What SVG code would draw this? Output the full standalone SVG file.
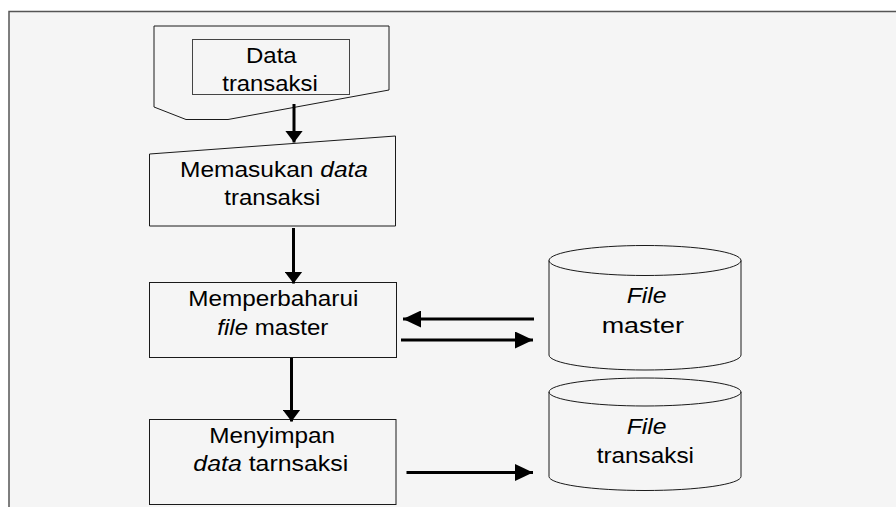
<svg xmlns="http://www.w3.org/2000/svg" width="896" height="507" viewBox="0 0 896 507">
  <style>
    .frame { fill: none; stroke: #555; stroke-width: 1.5; }
    .shape { fill: none; stroke: #1a1a1a; stroke-width: 1; }
    .inner { fill: none; stroke: #444; stroke-width: 1; }
    .label { font-family: "Liberation Sans", Arial, sans-serif; font-size: 22.5px; fill: #000; }
    .it { font-style: italic; }
    .flow { fill: none; stroke: #000; stroke-width: 3; }
  </style>
  <defs>
    <marker id="headDown" markerUnits="userSpaceOnUse" viewBox="0 0 12 18" refX="12" refY="9" markerWidth="12" markerHeight="18" orient="auto">
      <path d="M0,0 L12,9 L0,18 Z" fill="#000"/>
    </marker>
    <marker id="headSide" markerUnits="userSpaceOnUse" viewBox="0 0 18 17" refX="18" refY="8.5" markerWidth="18" markerHeight="17" orient="auto">
      <path d="M0,0 L18,8.5 L0,17 Z" fill="#000"/>
    </marker>
  </defs>

  <!-- page background and frame -->
  <rect x="0" y="0" width="896" height="507" fill="#fff"/>
  <rect x="9" y="11.5" width="887" height="495.5" fill="#f5f5f5"/>
  <path class="frame" d="M9,507 V11.5 H896"/>

  <!-- source document -->
  <g id="doc-data-transaksi">
    <path class="shape" d="M154,26 H389 V90 L228,119.5 H186 L154,107 Z"/>
    <rect class="inner" x="192.5" y="39.5" width="157" height="55"/>
    <text class="label" x="246" y="63" textLength="50.7" lengthAdjust="spacingAndGlyphs">Data</text>
    <text class="label" x="222.3" y="91" textLength="95.4" lengthAdjust="spacingAndGlyphs">transaksi</text>
  </g>

  <!-- manual input -->
  <g id="input-memasukan">
    <path class="shape" d="M149.5,154 L395.5,136 V226 H149.5 Z"/>
    <text class="label" x="180" y="177" textLength="188" lengthAdjust="spacingAndGlyphs">Memasukan <tspan class="it">data</tspan></text>
    <text class="label" x="224.3" y="205.3" textLength="96" lengthAdjust="spacingAndGlyphs">transaksi</text>
  </g>

  <!-- process: update master -->
  <g id="proc-memperbaharui">
    <rect class="shape" x="149.5" y="282.5" width="247" height="75"/>
    <text class="label" x="188.3" y="306" textLength="170" lengthAdjust="spacingAndGlyphs">Memperbaharui</text>
    <text class="label" x="217.3" y="335" textLength="111" lengthAdjust="spacingAndGlyphs"><tspan class="it">file</tspan> master</text>
  </g>

  <!-- process: store transactions -->
  <g id="proc-menyimpan">
    <rect class="shape" x="149.5" y="419.5" width="246.5" height="85"/>
    <text class="label" x="209.3" y="443.3" textLength="125.7" lengthAdjust="spacingAndGlyphs">Menyimpan</text>
    <text class="label" x="193.3" y="470.7" textLength="155" lengthAdjust="spacingAndGlyphs"><tspan class="it">data</tspan> tarnsaksi</text>
  </g>

  <!-- storage: master file -->
  <g id="store-file-master">
    <path class="shape" d="M549,260.5 V355 A96,15 0 0 0 741,355 V260.5"/>
    <ellipse class="shape" cx="645" cy="260.5" rx="96" ry="15"/>
    <text class="label" x="626.7" y="303.3" textLength="40" lengthAdjust="spacingAndGlyphs"><tspan class="it">File</tspan></text>
    <text class="label" x="601.7" y="333.3" textLength="82.3" lengthAdjust="spacingAndGlyphs">master</text>
  </g>

  <!-- storage: transaction file -->
  <g id="store-file-transaksi">
    <path class="shape" d="M549,392 V476.5 A96,14 0 0 0 741,476.5 V392"/>
    <ellipse class="shape" cx="645" cy="392" rx="96" ry="14"/>
    <text class="label" x="626.7" y="434.3" textLength="40" lengthAdjust="spacingAndGlyphs"><tspan class="it">File</tspan></text>
    <text class="label" x="596.7" y="463.3" textLength="97.3" lengthAdjust="spacingAndGlyphs">transaksi</text>
  </g>

  <!-- connectors -->
  <g id="connectors">
    <line class="flow" x1="294" y1="104" x2="294" y2="142.5" marker-end="url(#headDown)"/>
    <line class="flow" x1="293.5" y1="228" x2="293.5" y2="283.5" marker-end="url(#headDown)"/>
    <line class="flow" x1="291.5" y1="358" x2="291.5" y2="421.5" marker-end="url(#headDown)"/>
    <line class="flow" x1="534" y1="319" x2="403" y2="319" marker-end="url(#headSide)"/>
    <line class="flow" x1="401" y1="340" x2="533" y2="340" marker-end="url(#headSide)"/>
    <line class="flow" x1="406.5" y1="472.5" x2="533" y2="472.5" marker-end="url(#headSide)"/>
  </g>
</svg>
